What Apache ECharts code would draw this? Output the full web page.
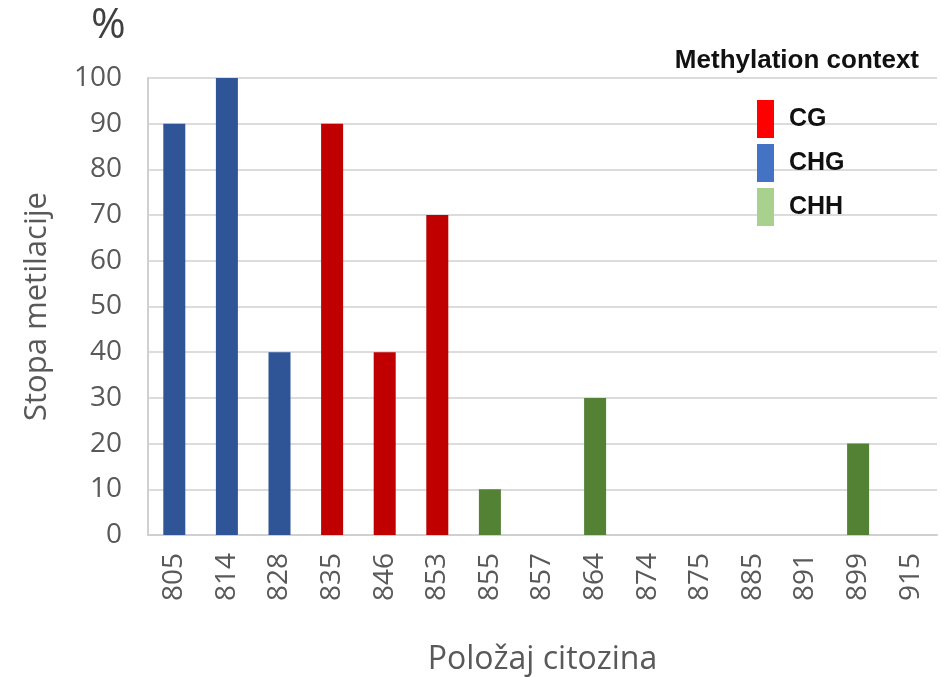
<!DOCTYPE html>
<html lang="en">
<head>
    <meta charset="utf-8">
    <title>Stopa metilacije</title>
    <script src="https://cdn.jsdelivr.net/npm/echarts@6/dist/echarts.min.js"></script>
    <style>
        html, body { margin: 0; padding: 0; background: #fff; }
        #chart { width: 942px; height: 677px; }
    </style>
</head>
<body>
<div id="chart"></div>
<script type="text/javascript">
    // pozicije citozina i stopa metilacije (%)
    const positions = ['805', '814', '828', '835', '846', '853', '855', '857', '864', '874', '875', '885', '891', '899', '915'];
    const rates = [90, 100, 40, 90, 40, 70, 10, 0, 30, 0, 0, 0, 0, 20, 0];
    const contexts = ['CHG', 'CHG', 'CHG', 'CG', 'CG', 'CG', 'CHH', 'CHH', 'CHH', 'CHH', 'CHH', 'CHH', 'CHH', 'CHH', 'CHH'];
    const contextNames = ['CG', 'CHG', 'CHH'];
    const barColors = ['#c00000', '#2f5597', '#548235'];
    const legendColors = ['#ff0000', '#4472c4', '#a9d18e'];
    const yTicks = [0, 10, 20, 30, 40, 50, 60, 70, 80, 90, 100];

    const chart = echarts.init(document.getElementById('chart'));

    const series = contextNames.map(function (ctx, i) {
        return {
            name: ctx,
            type: 'bar',
            barWidth: 22,
            barGap: '-100%',
            itemStyle: {color: barColors[i]},
            data: rates.map(function (v, j) {
                return contexts[j] === ctx ? v : '-';
            })
        };
    });

    const option = {
        animation: false,
        title: [
            {
                text: 'Methylation context',
                right: 18,
                top: 43,
                textStyle: {fontSize: 26, fontWeight: 'bold', color: '#111', fontFamily: 'Liberation Sans'}
            },
            {
                text: '%',
                left: 86,
                top: 0,
                textStyle: {fontSize: 42, fontWeight: 'normal', color: '#404040', fontFamily: 'Open Sans'}
            }
        ],
        legend: {
            orient: 'vertical',
            left: 752,
            top: 95,
            itemWidth: 17,
            itemHeight: 38,
            itemGap: 6,
            icon: 'rect',
            textStyle: {fontSize: 25, fontWeight: 'bold', color: '#111', fontFamily: 'Liberation Sans', padding: [0, 0, 0, 10]},
            data: contextNames.map(function (ctx, i) {
                return {name: ctx, itemStyle: {color: legendColors[i]}};
            })
        },
        grid: {left: 148, right: 5, top: 78, bottom: 142, outerBoundsMode: 'none'},
        xAxis: {
            type: 'category',
            data: positions,
            name: 'Položaj citozina',
            nameLocation: 'middle',
            nameGap: 109,
            nameTextStyle: {fontSize: 32, color: '#595959', fontFamily: 'Open Sans'},
            axisLine: {lineStyle: {color: '#d0d0d0', width: 2}},
            axisTick: {show: false},
            axisLabel: {rotate: 90, fontSize: 28, color: '#595959', margin: 18, fontFamily: 'Open Sans'}
        },
        yAxis: {
            type: 'value',
            min: yTicks[0],
            max: yTicks[yTicks.length - 1],
            interval: 10,
            name: 'Stopa metilacije',
            nameLocation: 'middle',
            nameGap: 95,
            nameTextStyle: {fontSize: 31, color: '#595959', fontFamily: 'Open Sans'},
            axisLine: {show: true, lineStyle: {color: '#d0d0d0', width: 2}},
            axisTick: {show: false},
            axisLabel: {fontSize: 28, color: '#595959', margin: 26, fontFamily: 'Open Sans'},
            splitLine: {lineStyle: {color: '#dcdcdc', width: 2}}
        },
        series: series
    };

    chart.setOption(option);
</script>
</body>
</html>
